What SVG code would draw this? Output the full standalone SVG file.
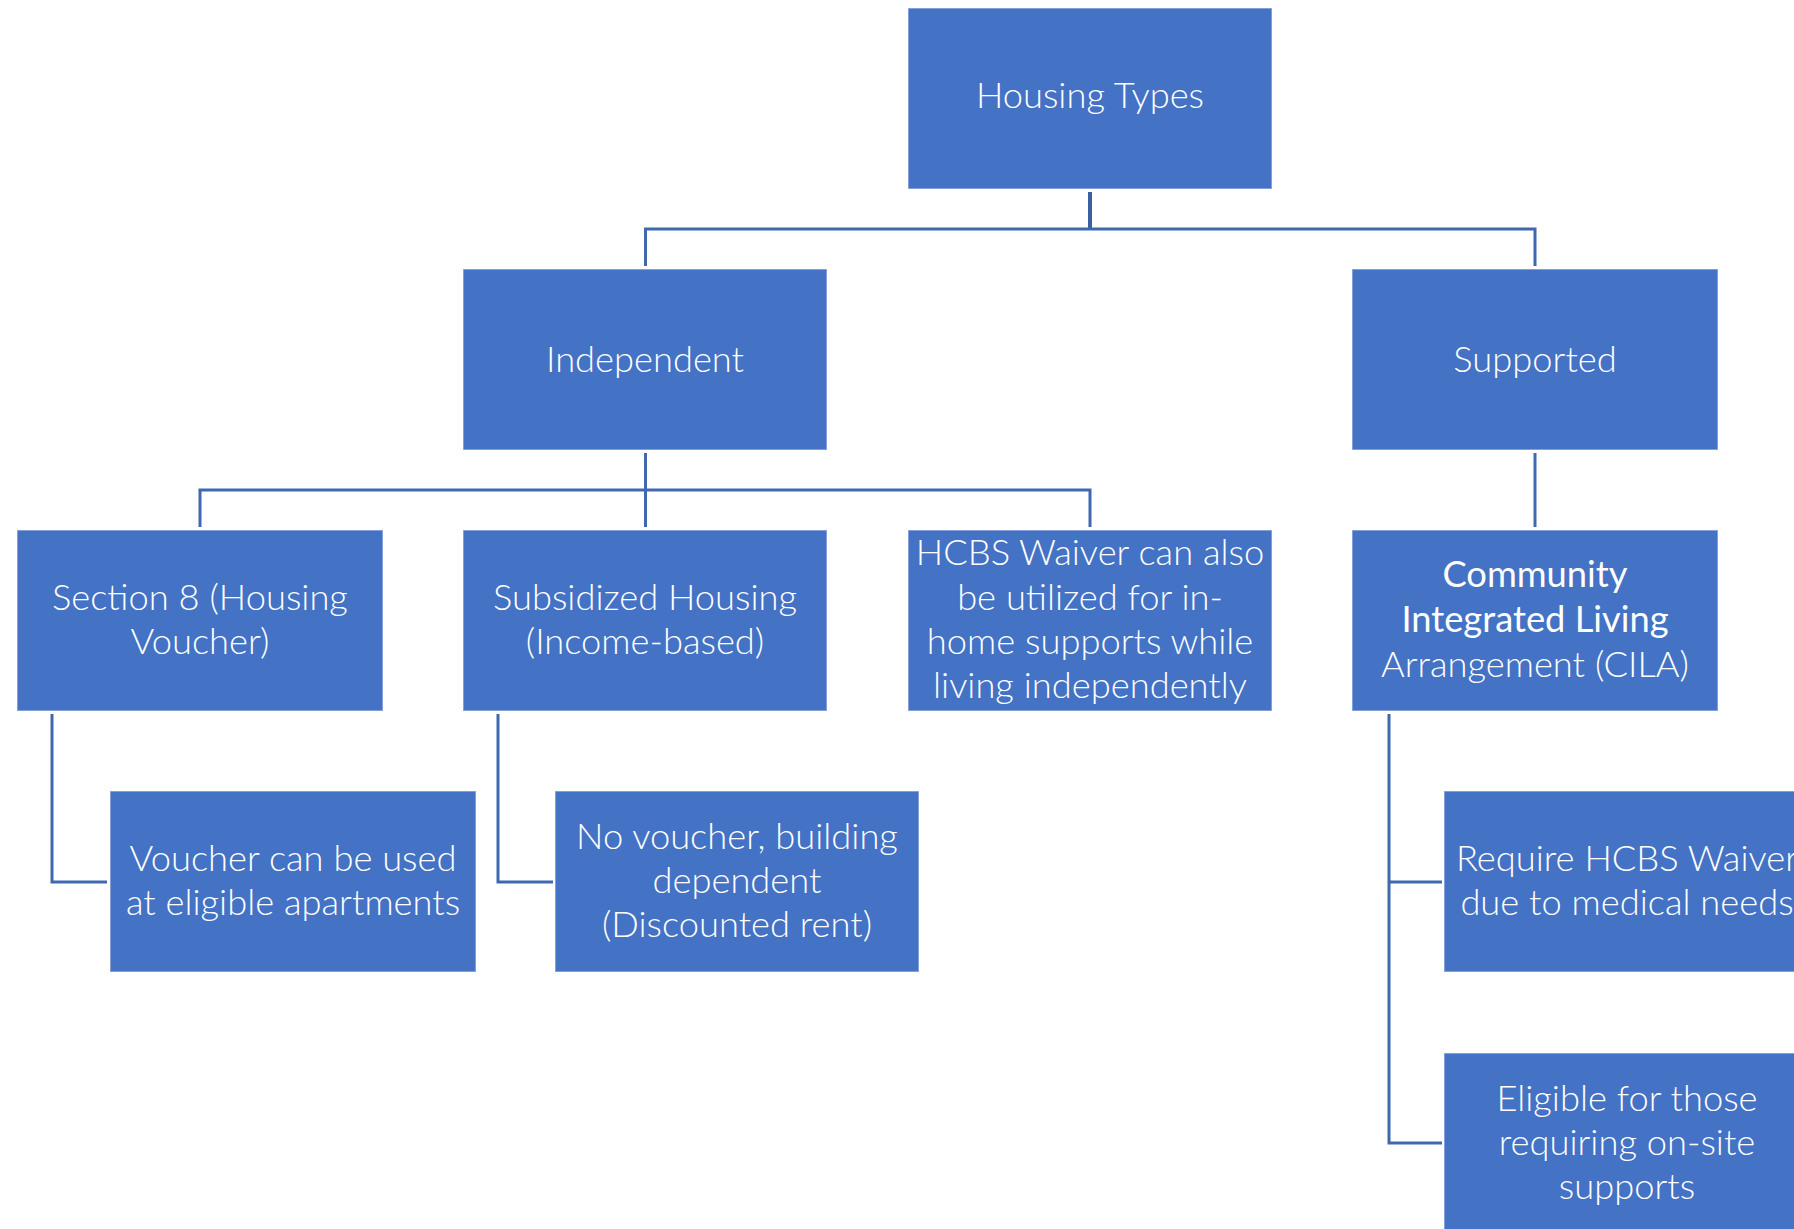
<svg xmlns="http://www.w3.org/2000/svg" width="1794" height="1229" viewBox="0 0 1794 1229">
<style>
.box{fill:#4472C4;stroke:#ffffff;stroke-opacity:0.45;stroke-width:1.5}
.t{font-family:Lato,"Open Sans","Liberation Sans",sans-serif;font-weight:300;font-size:36.3px;fill:#ffffff;text-anchor:middle}
.b{font-weight:400}
.c{fill:none;stroke:#4068B0;stroke-width:3}
</style>
<rect width="1794" height="1229" fill="#ffffff"/>
<g id="connectors">
<path class="c" d="M1090 192V229" style="stroke-width:4;stroke:#3B5FA0"/>
<path class="c" d="M645.5 266V229H1535V266"/>
<path class="c" d="M645.5 453V527M200 527V490H1090V527"/>
<path class="c" d="M1535 453V527"/>
<path class="c" d="M52 714V882H107"/>
<path class="c" d="M498 714V882H553"/>
<path class="c" d="M1389 714V1143H1442M1389 882H1442"/>
</g>
<g id="housing-types"><rect class="box" x="908" y="8" width="364" height="181"/><text class="t" x="1090" y="108">Housing Types</text></g>
<g id="independent"><rect class="box" x="463" y="269" width="364" height="181"/><text class="t" x="645" y="372">Independent</text></g>
<g id="supported"><rect class="box" x="1352" y="269" width="366" height="181"/><text class="t" x="1535" y="372">Supported</text></g>
<g id="section8"><rect class="box" x="17" y="530" width="366" height="181"/><text class="t" x="200" y="610">Section 8 (Housing</text><text class="t" x="200" y="654">Voucher)</text></g>
<g id="subsidized"><rect class="box" x="463" y="530" width="364" height="181"/><text class="t" x="645" y="610">Subsidized Housing</text><text class="t" x="645" y="654">(Income-based)</text></g>
<g id="hcbs"><rect class="box" x="908" y="530" width="364" height="181"/><text class="t" x="1090" y="565">HCBS Waiver can also</text><text class="t" x="1090" y="610">be utilized for in-</text><text class="t" x="1090" y="654">home supports while</text><text class="t" x="1090" y="698">living independently</text></g>
<g id="cila"><rect class="box" x="1352" y="530" width="366" height="181"/><text class="t b" x="1535" y="587">Community</text><text class="t b" x="1535" y="632">Integrated Living</text><text class="t" x="1535" y="677">Arrangement (CILA)</text></g>
<g id="voucher"><rect class="box" x="110" y="791" width="366" height="181"/><text class="t" x="293" y="871">Voucher can be used</text><text class="t" x="293" y="915">at eligible apartments</text></g>
<g id="novoucher"><rect class="box" x="555" y="791" width="364" height="181"/><text class="t" x="737" y="849">No voucher, building</text><text class="t" x="737" y="893">dependent</text><text class="t" x="737" y="937">(Discounted rent)</text></g>
<g id="require"><rect class="box" x="1444" y="791" width="366" height="181"/><text class="t" x="1627" y="871">Require HCBS Waiver</text><text class="t" x="1627" y="915">due to medical needs</text></g>
<g id="eligible"><rect class="box" x="1444" y="1053" width="366" height="190"/><text class="t" x="1627" y="1111">Eligible for those</text><text class="t" x="1627" y="1155">requiring on-site</text><text class="t" x="1627" y="1199">supports</text></g>
</svg>
